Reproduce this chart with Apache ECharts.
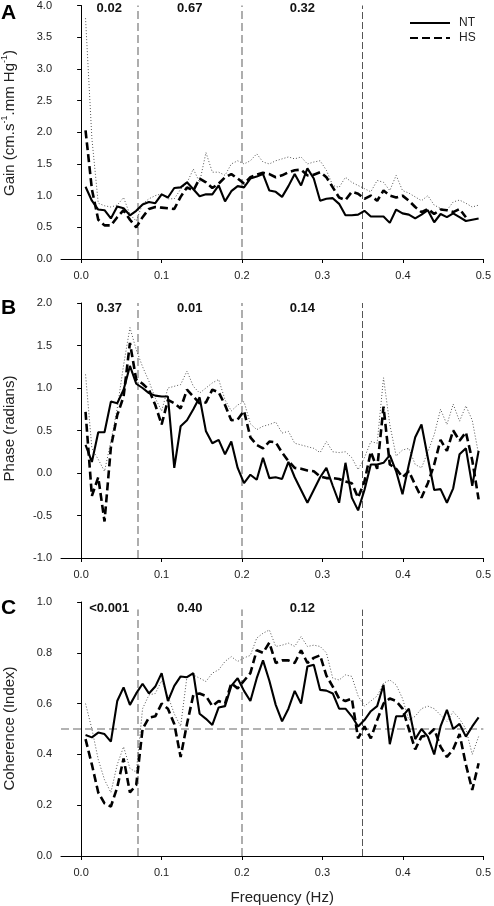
<!DOCTYPE html>
<html><head><meta charset="utf-8">
<script src="https://cdn.jsdelivr.net/npm/echarts@6/dist/echarts.min.js"></script>
<style>html,body{margin:0;padding:0;background:#fff}#c{width:494px;height:906px}</style>
</head><body><div id="c"></div>
<script>
// Frequencies (Hz) of the spectral estimates
const freq = [0.0055,0.0134,0.0213,0.0291,0.0370,0.0449,0.0528,0.0607,0.0685,0.0764,0.0843,0.0922,0.1001,0.1079,0.1158,0.1237,0.1316,0.1395,0.1473,0.1552,0.1631,0.1710,0.1789,0.1867,0.1946,0.2025,0.2104,0.2183,0.2261,0.2340,0.2419,0.2498,0.2577,0.2655,0.2734,0.2813,0.2892,0.2971,0.3049,0.3128,0.3207,0.3286,0.3365,0.3443,0.3522,0.3601,0.3680,0.3759,0.3837,0.3916,0.3995,0.4074,0.4153,0.4231,0.4310,0.4389,0.4468,0.4547,0.4625,0.4704,0.4783,0.4862,0.4941];

// Panel A: Gain
const gainNT = [1.14,0.92,0.78,0.77,0.64,0.83,0.80,0.69,0.76,0.86,0.90,0.88,1.02,0.97,1.12,1.13,1.21,1.10,0.99,1.02,1.02,1.16,0.91,1.07,1.15,1.13,1.27,1.30,1.34,1.08,1.06,0.98,1.15,1.34,1.16,1.43,1.27,0.92,0.95,0.96,0.87,0.69,0.69,0.70,0.76,0.67,0.67,0.67,0.57,0.78,0.72,0.70,0.64,0.70,0.77,0.58,0.71,0.66,0.72,0.66,0.60,0.62,0.64];
const gainHS = [2.03,1.10,0.62,0.53,0.53,0.66,0.77,0.62,0.50,0.66,0.79,0.82,0.81,0.80,0.79,0.98,1.13,1.08,1.27,1.21,1.12,1.19,1.29,1.34,1.27,1.19,1.29,1.33,1.36,1.34,1.29,1.32,1.37,1.40,1.41,1.32,1.33,1.37,1.29,1.13,0.97,0.93,1.06,1.03,0.95,1.00,0.92,1.08,1.00,0.97,1.00,0.92,0.82,0.74,0.79,0.71,0.78,0.77,0.74,0.79,0.66,null,null];
const gainUp = [3.80,1.90,0.88,0.84,0.82,0.85,0.97,0.70,0.60,0.87,0.95,1.00,1.03,0.95,0.95,1.10,1.20,1.42,1.21,1.68,1.37,1.37,1.32,1.50,1.55,1.50,1.55,1.66,1.53,1.50,1.55,1.58,1.61,1.58,1.61,1.50,1.53,1.55,1.40,1.16,1.13,1.29,1.21,1.16,1.11,1.06,1.24,1.21,1.08,1.32,1.08,1.04,0.98,0.92,1.00,0.85,0.80,0.77,0.90,0.93,0.88,0.82,0.85];

// Panel B: Phase
const phaseNT = [0.33,0.13,0.48,0.48,0.84,0.82,0.98,1.26,1.05,1.00,0.94,0.91,0.90,0.90,0.06,0.55,0.62,0.75,0.89,0.49,0.35,0.39,0.22,0.37,0.06,-0.12,-0.02,-0.08,0.18,-0.06,-0.05,-0.07,0.13,-0.05,-0.20,-0.35,-0.20,-0.05,0.06,-0.15,-0.35,0.12,-0.29,-0.44,-0.20,0.10,0.10,0.12,0.21,0.02,-0.25,0.10,0.42,0.57,0.18,-0.20,-0.19,-0.35,-0.18,0.22,0.29,-0.15,0.26];
const phaseHS = [0.72,-0.27,-0.05,-0.57,0.30,0.68,0.90,1.53,1.10,1.05,0.98,0.80,0.57,0.86,0.82,0.76,0.98,0.90,0.82,0.83,0.98,0.95,0.80,0.62,0.63,0.73,0.42,0.33,0.29,0.37,0.36,0.24,0.14,0.06,0.05,0.03,0.02,-0.04,-0.06,-0.06,-0.07,-0.10,-0.12,-0.29,-0.10,0.25,0.05,0.78,0.10,0.05,-0.05,0.02,-0.14,-0.29,-0.12,0.10,0.39,0.26,0.50,0.38,0.48,0.15,-0.31];
const phaseUp = [1.16,0.29,0.16,0.02,0.37,0.76,1.27,1.71,1.45,1.25,1.08,0.88,0.73,1.00,1.02,1.04,1.20,1.02,0.94,1.00,1.06,1.10,0.86,0.73,0.80,0.84,0.58,0.51,0.55,0.57,0.60,0.47,0.49,0.35,0.33,0.31,0.29,0.24,0.37,0.25,0.24,0.25,0.18,0.04,0.18,0.37,0.35,1.12,0.57,0.20,0.27,0.29,0.10,0.06,0.25,0.45,0.75,0.57,0.81,0.61,0.79,0.62,0.22];

// Panel C: Coherence
const cohNT = [0.476,0.467,0.486,0.48,0.45,0.61,0.664,0.595,0.64,0.678,0.64,0.667,0.72,0.61,0.67,0.707,0.704,0.72,0.56,0.54,0.516,0.585,0.59,0.67,0.70,0.65,0.61,0.70,0.77,0.69,0.595,0.53,0.58,0.65,0.60,0.746,0.753,0.654,0.651,0.64,0.58,0.58,0.55,0.51,0.535,0.57,0.59,0.674,0.44,0.55,0.55,0.58,0.46,0.50,0.47,0.40,0.51,0.575,0.50,0.52,0.47,0.51,0.546];
const cohHS = [0.46,0.36,0.25,0.207,0.195,0.27,0.384,0.25,0.28,0.50,0.545,0.55,0.60,0.58,0.52,0.39,0.52,0.634,0.64,0.63,0.59,0.61,0.60,0.68,0.66,0.69,0.72,0.81,0.80,0.84,0.76,0.77,0.77,0.76,0.81,0.76,0.78,0.79,0.71,0.667,0.62,0.61,0.62,0.463,0.51,0.463,0.535,0.60,0.62,0.61,0.58,0.50,0.42,0.47,0.476,0.50,0.43,0.39,0.42,0.48,0.36,0.26,0.365];
const cohUp = [0.60,0.50,0.38,0.30,0.25,0.36,0.43,0.345,0.33,0.58,0.634,0.64,0.69,0.63,0.56,0.51,0.707,0.713,0.70,0.687,0.72,0.733,0.766,0.785,0.766,0.78,0.79,0.858,0.877,0.89,0.825,0.83,0.838,0.825,0.864,0.825,0.83,0.825,0.80,0.70,0.693,0.713,0.707,0.63,0.59,0.61,0.63,0.68,0.693,0.674,0.62,0.535,0.55,0.58,0.59,0.58,0.555,0.53,0.568,0.54,0.50,0.40,0.47];

// Axes, bands and annotations
const xTicks = [0, 0.1, 0.2, 0.3, 0.4, 0.5];
const bandEdges = [0.07, 0.2, 0.35];
const bandCenters = [0.035, 0.135, 0.275];
const pGain = ['0.02', '0.67', '0.32'];
const pPhase = ['0.37', '0.01', '0.14'];
const pCoh = ['<0.001', '0.40', '0.12'];
const panelLetters = ['A', 'B', 'C'];
const yRanges = [[0, 4, 0.5], [-1, 2, 0.5], [0, 1, 0.2]];
const cohThreshold = 0.5;

const FONT = "'Liberation Sans', Arial, Helvetica, sans-serif";
const zip = (xs, ys) => xs.map((x, i) => [x, ys[i]]);

const grids = [
  {left: 61, width: 424, top: 5, height: 254},
  {left: 61, width: 424, top: 303, height: 255},
  {left: 61, width: 424, top: 602, height: 254}
];

const xAxes = grids.map((g, i) => ({
  type: 'value', gridIndex: i, min: -0.025, max: 0.5,
  axisLine: {show: true, onZero: false, lineStyle: {color: '#000', width: 1}},
  axisTick: {show: true, length: 4, customValues: xTicks, lineStyle: {color: '#000'}},
  axisLabel: {customValues: xTicks, formatter: v => v.toFixed(1), fontSize: 11, color: '#222', margin: 11, fontFamily: FONT},
  splitLine: {show: false}
}));

const yAxes = yRanges.map((r, i) => ({
  type: 'value', gridIndex: i, min: r[0], max: r[1], interval: r[2],
  axisLine: {show: true, lineStyle: {color: '#000', width: 1}},
  axisTick: {show: true, length: 4, lineStyle: {color: '#000'}},
  axisLabel: {formatter: v => v.toFixed(1), fontSize: 11, color: '#222', margin: 9, fontFamily: FONT},
  splitLine: {show: false}
}));

const panels = [
  {nt: gainNT, hs: gainHS, up: gainUp, top: 4},
  {nt: phaseNT, hs: phaseHS, up: phaseUp, top: 2},
  {nt: cohNT, hs: cohHS, up: cohUp, top: 0.97}
];

const grayDash = {color: '#9a9a9a', width: 1.6, type: [8, 4]};
const darkDash = {color: '#555', width: 1, type: [7, 3]};

const series = [];
panels.forEach((p, i) => {
  const ymin = yRanges[i][0];
  series.push({
    type: 'line', name: 'upper', xAxisIndex: i, yAxisIndex: i, data: zip(freq, p.up),
    symbol: 'none', silent: true, z: 2,
    lineStyle: {color: '#555', width: 1, type: [1, 2]}, itemStyle: {color: '#555'}
  });
  series.push({
    type: 'line', name: 'HS', xAxisIndex: i, yAxisIndex: i, data: zip(freq, p.hs),
    symbol: 'none', z: 3, connectNulls: false,
    lineStyle: {color: '#000', width: 2.6, type: [8, 4]}, itemStyle: {color: '#000'}
  });
  const ml = bandEdges.map((b, k) => [
    {coord: [b, ymin], lineStyle: k === 2 ? darkDash : grayDash},
    {coord: [b, p.top]}
  ]);
  if (i === 2) ml.push({yAxis: cohThreshold, lineStyle: grayDash});
  series.push({
    type: 'line', name: 'NT', xAxisIndex: i, yAxisIndex: i, data: zip(freq, p.nt),
    symbol: 'none', z: 4,
    lineStyle: {color: '#000', width: 2.1}, itemStyle: {color: '#000'},
    markLine: {silent: true, symbol: 'none', label: {show: false}, animation: false, data: ml, z: 1}
  });
});

const chart = echarts.init(document.getElementById('c'), null, {renderer: 'canvas'});
chart.setOption({
  animation: false,
  backgroundColor: '#fff',
  textStyle: {fontFamily: FONT},
  grid: grids,
  xAxis: xAxes,
  yAxis: yAxes,
  legend: {
    data: ['NT', 'HS'], orient: 'vertical', left: 409, top: 17,
    itemWidth: 40, itemHeight: 12, itemGap: 3, padding: 0,
    selectedMode: false,
    itemStyle: {opacity: 0},
    textStyle: {fontSize: 12, color: '#222', fontFamily: FONT, padding: [0, 0, 0, 4]}
  },
  series: series
});

// Annotations placed through the axes
const graphic = [];
const pLabels = [pGain, pPhase, pCoh];
const pY = [8, 308, 608];
const letterY = [13, 308.5, 608];
pLabels.forEach((labels, i) => {
  labels.forEach((t, k) => {
    const x = chart.convertToPixel({xAxisIndex: i}, bandCenters[k]);
    graphic.push({type: 'text', x: x, y: pY[i], silent: true,
      style: {text: t, fontSize: 13, fontWeight: 'bold', fill: '#111', fontFamily: FONT, align: 'center', verticalAlign: 'middle'}});
  });
  graphic.push({type: 'text', x: 8.5, y: letterY[i], silent: true,
    style: {text: panelLetters[i], fontSize: 21, fontWeight: 'bold', fill: '#000', fontFamily: FONT, align: 'center', verticalAlign: 'middle'}});
});
// Y titles
graphic.push({type: 'text', x: 10, y: 123, rotation: Math.PI / 2, silent: true,
  style: {text: '{n|Gain (cm.s}{s|-1}{n|.mm Hg}{s|-1}{n|)}', align: 'center', verticalAlign: 'middle', fill: '#222',
    rich: {n: {fontSize: 15, lineHeight: 19, fontFamily: FONT, fill: '#222'},
           s: {fontSize: 9, lineHeight: 10, fontFamily: FONT, fill: '#222', verticalAlign: 'top'}}}});
graphic.push({type: 'text', x: 10, y: 428.5, rotation: Math.PI / 2, silent: true,
  style: {text: 'Phase (radians)', fontSize: 15, fontFamily: FONT, fill: '#222', align: 'center', verticalAlign: 'middle'}});
graphic.push({type: 'text', x: 10, y: 728.5, rotation: Math.PI / 2, silent: true,
  style: {text: 'Coherence (Index)', fontSize: 15, fontFamily: FONT, fill: '#222', align: 'center', verticalAlign: 'middle'}});
// X title
graphic.push({type: 'text', x: chart.convertToPixel({xAxisIndex: 2}, 0.25), y: 898, silent: true,
  style: {text: 'Frequency (Hz)', fontSize: 15, fontFamily: FONT, fill: '#222', align: 'center', verticalAlign: 'middle'}});

chart.setOption({graphic: graphic});
</script>
</body></html>
